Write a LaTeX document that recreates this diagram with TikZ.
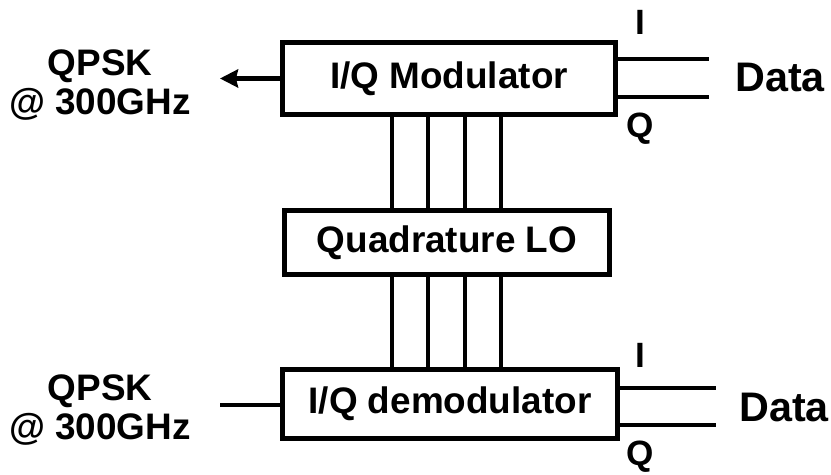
\documentclass[tikz,border=0pt]{standalone}
\usepackage{fontspec}
\setmainfont{Liberation Sans}
\usetikzlibrary{arrows.meta}

\begin{document}
\begin{tikzpicture}[line width=2.8pt,
  block/.style={draw, inner sep=0pt, font=\fontsize{21}{25}\selectfont\bfseries},
  biglabel/.style={align=center, font=\fontsize{21}{22.5}\selectfont\bfseries},
  datalabel/.style={font=\fontsize{23.5}{28}\selectfont\bfseries},
  iqlabel/.style={font=\fontsize{20}{24}\selectfont\bfseries}]
  \useasboundingbox (0, 0) rectangle (16.62, 9.5);

  \node (mod) at (8.98, 7.93) [block, minimum width=6.66cm, minimum height=1.44cm] {I/Q Modulator};
  \node (lo) at (8.94, 4.65) [block, minimum width=6.5cm, minimum height=1.28cm] {Quadrature LO};
  \node (demod) at (9.0, 1.42) [block, minimum width=6.7cm, minimum height=1.38cm] {I/Q demodulator};

  % LO lines
  \foreach \x in {7.84, 8.56, 9.30, 10.02} {
    \draw (mod.south -| \x, 0) -- (lo.north -| \x, 0);
    \draw (lo.south -| \x, 0) -- (demod.north -| \x, 0);
  }

  % transmitter side
  \node (txlabel) at (2.0, 7.8) [biglabel] {QPSK\\@ 300GHz};
  \coordinate (txout) at (4.4, 7.93);
  \draw [-{Stealth[length=0.36cm, width=0.36cm, inset=0.04cm]}] (mod.west) -- (txout);
  \coordinate (txI) at (14.18, 8.32);
  \coordinate (txQ) at (14.18, 7.56);
  \draw (txI -| mod.east) -- (txI);
  \draw (txQ -| mod.east) -- (txQ);
  \node (txIlabel) at (12.8, 9.05) [iqlabel] {I};
  \node (txQlabel) at (12.8, 6.92) [iqlabel] {Q};
  \node (txdata) at (15.6, 7.94) [datalabel] {Data};

  % receiver side
  \node (rxlabel) at (2.0, 1.3) [biglabel] {QPSK\\@ 300GHz};
  \coordinate (rxin) at (4.4, 1.4);
  \draw (rxin) -- (rxin -| demod.west);
  \coordinate (rxI) at (14.32, 1.74);
  \coordinate (rxQ) at (14.32, 1.0);
  \draw (rxI -| demod.east) -- (rxI);
  \draw (rxQ -| demod.east) -- (rxQ);
  \node (rxIlabel) at (12.8, 2.4) [iqlabel] {I};
  \node (rxQlabel) at (12.8, 0.36) [iqlabel] {Q};
  \node (rxdata) at (15.68, 1.34) [datalabel] {Data};
\end{tikzpicture}
\end{document}
